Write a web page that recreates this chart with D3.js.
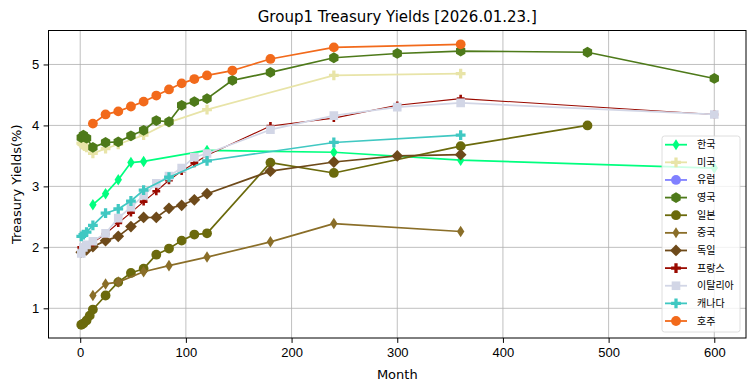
<!DOCTYPE html>
<html>
<head>
<meta charset="utf-8">
<script src="https://cdn.jsdelivr.net/npm/d3@7"></script>
<style>
  body { margin: 0; background: #fff; }
  svg { font-family: "DejaVu Sans", "Noto Sans CJK KR", sans-serif; }
  .grid line { stroke: #b0b0b0; stroke-width: 0.8; }
  .axis path { display: none; }
  .axis text { font-size: 13px; fill: #000; }
  .axis line { stroke: #000; }
</style>
</head>
<body>
<svg width="755" height="391"></svg>
<script>
// tick labels
const xTicks = [0, 100, 200, 300, 400, 500, 600];
const yTicks = [1, 2, 3, 4, 5];

// series names (legend order)
const countries = ["한국", "미국", "유럽", "영국", "일본", "중국", "독일", "프랑스", "이탈리아", "캐나다", "호주"];

// months / yields per country
const monthsKR = [12, 24, 36, 48, 60, 120, 240, 360, 600];
const yieldsKR = [2.70, 2.88, 3.11, 3.39, 3.41, 3.59, 3.56, 3.43, 3.30];

const monthsUS = [1, 2, 3, 4, 6, 12, 24, 36, 60, 84, 120, 240, 360];
const yieldsUS = [3.71, 3.69, 3.68, 3.66, 3.64, 3.54, 3.62, 3.69, 3.84, 4.05, 4.26, 4.82, 4.85];

const monthsEU = [];
const yieldsEU = [];

const monthsUK = [1, 3, 6, 12, 24, 36, 48, 60, 72, 84, 96, 108, 120, 144, 180, 240, 300, 360, 480, 600];
const yieldsUK = [3.80, 3.84, 3.79, 3.64, 3.72, 3.73, 3.83, 3.92, 4.08, 4.06, 4.33, 4.39, 4.44, 4.74, 4.87, 5.11, 5.18, 5.22, 5.20, 4.77];

const monthsJP = [1, 3, 6, 9, 12, 24, 36, 48, 60, 72, 84, 96, 108, 120, 180, 240, 360, 480];
const yieldsJP = [0.73, 0.75, 0.80, 0.88, 0.98, 1.21, 1.43, 1.58, 1.65, 1.88, 1.98, 2.11, 2.21, 2.23, 3.39, 3.22, 3.66, 4.00];

const monthsCN = [12, 24, 36, 60, 84, 120, 180, 240, 360];
const yieldsCN = [1.21, 1.40, 1.43, 1.60, 1.70, 1.84, 2.09, 2.39, 2.26];

const monthsDE = [1, 3, 6, 12, 24, 36, 48, 60, 72, 84, 96, 108, 120, 180, 240, 300, 360];
const yieldsDE = [1.92, 1.93, 1.96, 2.01, 2.11, 2.18, 2.34, 2.49, 2.49, 2.64, 2.69, 2.78, 2.88, 3.25, 3.40, 3.50, 3.52];

const monthsFR = [1, 3, 6, 12, 24, 36, 48, 60, 72, 84, 96, 108, 120, 180, 240, 300, 360, 600];
const yieldsFR = [2.00, 2.01, 2.04, 2.08, 2.22, 2.40, 2.57, 2.75, 2.92, 3.10, 3.25, 3.38, 3.51, 3.99, 4.12, 4.33, 4.44, 4.18];

const monthsIT = [1, 3, 6, 12, 24, 36, 48, 60, 72, 84, 96, 108, 120, 180, 240, 300, 360, 600];
const yieldsIT = [1.90, 2.00, 2.04, 2.10, 2.23, 2.48, 2.66, 2.85, 3.05, 3.17, 3.30, 3.48, 3.54, 3.93, 4.16, 4.30, 4.37, 4.18];

const monthsCA = [1, 3, 6, 12, 24, 36, 48, 60, 84, 120, 240, 360];
const yieldsCA = [2.18, 2.21, 2.25, 2.36, 2.56, 2.63, 2.76, 2.94, 3.15, 3.42, 3.72, 3.84];

const monthsAU = [12, 24, 36, 48, 60, 72, 84, 96, 108, 120, 144, 180, 240, 360];
const yieldsAU = [4.03, 4.18, 4.23, 4.31, 4.39, 4.49, 4.59, 4.69, 4.76, 4.82, 4.90, 5.09, 5.28, 5.33];

const months = [monthsKR, monthsUS, monthsEU, monthsUK, monthsJP, monthsCN, monthsDE, monthsFR, monthsIT, monthsCA, monthsAU];
const yields = [yieldsKR, yieldsUS, yieldsEU, yieldsUK, yieldsJP, yieldsCN, yieldsDE, yieldsFR, yieldsIT, yieldsCA, yieldsAU];

// styling per series
const colors = ["#00ff7f", "#e8e4a8", "#8080ff", "#4e7a1a", "#6b6a0c", "#8a6e28", "#6e4a1a", "#9a0a00", "#d2d6e6", "#40c8c2", "#f26a1b"];
const markers = ["d", "P", "o", "h", "o", "d", "D", "P", "s", "P", "o"];
const lineW = [1.7, 1.7, 1.7, 1.7, 1.7, 1.7, 1.7, 1.1, 1.7, 1.7, 1.7];
const mSize = [1.05, 1, 1, 1, 1, 1.05, 1, 0.8, 1, 1, 1];

const series = countries.map((name, i) => ({
    name,
    color: colors[i],
    marker: markers[i],
    lw: lineW[i],
    ms: mSize[i],
    points: months[i].map((m, j) => ({ month: m, value: yields[i][j] }))
}));

const svg = d3.select("svg");
const width = +svg.attr("width");
const height = +svg.attr("height");
const margin = { top: 30.5, right: 9, bottom: 53, left: 48.5 };
const iw = width - margin.left - margin.right;
const ih = height - margin.top - margin.bottom;

const x = d3.scaleLinear().domain([-30, 630]).range([0, iw]);
const y = d3.scaleLinear().domain([0.513, 5.557]).range([ih, 0]);

function markerPath(type, k) {
    const s = 9.8 * k;
    const p = d3.path();
    if (type === "d") {
        const h = s * 0.56, w = s * 0.36;
        p.moveTo(0, -h); p.lineTo(w, 0); p.lineTo(0, h); p.lineTo(-w, 0); p.closePath();
    } else if (type === "D") {
        const h = s * 0.6;
        p.moveTo(0, -h); p.lineTo(h, 0); p.lineTo(0, h); p.lineTo(-h, 0); p.closePath();
    } else if (type === "P") {
        const a = s / 2, b = s / 6;
        p.moveTo(-b, -a); p.lineTo(b, -a); p.lineTo(b, -b); p.lineTo(a, -b); p.lineTo(a, b);
        p.lineTo(b, b); p.lineTo(b, a); p.lineTo(-b, a); p.lineTo(-b, b); p.lineTo(-a, b);
        p.lineTo(-a, -b); p.lineTo(-b, -b); p.closePath();
    } else if (type === "s") {
        const a = s * 0.44;
        p.rect(-a, -a, 2 * a, 2 * a);
    } else if (type === "h") {
        const r = s * 0.55;
        for (let i = 0; i < 6; i++) {
            const ang = Math.PI / 2 + i * Math.PI / 3;
            const px = r * Math.cos(ang), py = -r * Math.sin(ang);
            i ? p.lineTo(px, py) : p.moveTo(px, py);
        }
        p.closePath();
    } else {
        p.arc(0, 0, s * 0.5, 0, 2 * Math.PI);
    }
    return p.toString();
}

const g = svg.append("g").attr("transform", `translate(${margin.left},${margin.top})`);

// grid
g.append("g").attr("class", "grid")
    .selectAll("line").data(xTicks).join("line")
    .attr("x1", d => x(d)).attr("x2", d => x(d)).attr("y1", 0).attr("y2", ih);
g.append("g").attr("class", "grid")
    .selectAll("line").data(yTicks).join("line")
    .attr("x1", 0).attr("x2", iw).attr("y1", d => y(d)).attr("y2", d => y(d));

const clipId = "plotclip";
svg.append("defs").append("clipPath").attr("id", clipId)
    .append("rect").attr("width", iw).attr("height", ih);

const line = d3.line().x(d => x(d.month)).y(d => y(d.value));

const plot = g.append("g").attr("clip-path", `url(#${clipId})`);
series.forEach(s => {
    if (!s.points.length) return;
    const sg = plot.append("g");
    sg.append("path")
        .datum(s.points)
        .attr("d", line)
        .attr("fill", "none")
        .attr("stroke", s.color)
        .attr("stroke-width", s.lw)
        .attr("stroke-linejoin", "round");
    sg.selectAll("path.mk").data(s.points).join("path")
        .attr("class", "mk")
        .attr("transform", d => `translate(${x(d.month)},${y(d.value)})`)
        .attr("d", markerPath(s.marker, s.ms))
        .attr("fill", s.color);
});

// axes
g.append("g").attr("class", "axis")
    .attr("transform", `translate(0,${ih})`)
    .call(d3.axisBottom(x).tickValues(xTicks).tickFormat(d3.format("d")).tickSize(4.9).tickPadding(4.5));
g.append("g").attr("class", "axis")
    .call(d3.axisLeft(y).tickValues(yTicks).tickFormat(d3.format("d")).tickSize(4.9).tickPadding(4.5));

g.append("rect")
    .attr("width", iw).attr("height", ih)
    .attr("fill", "none").attr("stroke", "#000").attr("stroke-width", 1);

// titles
svg.append("text")
    .attr("x", margin.left + iw / 2).attr("y", 22)
    .attr("text-anchor", "middle")
    .attr("font-size", 15)
    .text("Group1 Treasury Yields [2026.01.23.]");
svg.append("text")
    .attr("x", margin.left + iw / 2).attr("y", 379)
    .attr("text-anchor", "middle")
    .attr("font-size", 13)
    .text("Month");
svg.append("text")
    .attr("transform", `translate(21,${margin.top + ih / 2}) rotate(-90)`)
    .attr("text-anchor", "middle")
    .attr("font-size", 13)
    .text("Treasury Yields(%)");

// legend
const lg = svg.append("g").attr("transform", "translate(662,136)");
lg.append("rect")
    .attr("width", 78).attr("height", 196)
    .attr("rx", 2.5)
    .attr("fill", "#fff").attr("fill-opacity", 0.8)
    .attr("stroke", "#d6d6d6").attr("stroke-width", 0.8);
const rowH = 17.63;
const items = lg.selectAll("g.item").data(series).join("g")
    .attr("class", "item")
    .attr("transform", (d, i) => `translate(0,${8.7 + i * rowH})`);
items.append("line")
    .attr("x1", 3).attr("x2", 25)
    .attr("stroke", d => d.color).attr("stroke-width", 1.8);
items.append("path")
    .attr("transform", "translate(14,0)")
    .attr("d", d => markerPath(d.marker, 1))
    .attr("fill", d => d.color);
items.append("text")
    .attr("x", 35).attr("y", 0).attr("dy", "0.35em")
    .attr("font-size", 10)
    .text(d => d.name);
</script>
</body>
</html>
